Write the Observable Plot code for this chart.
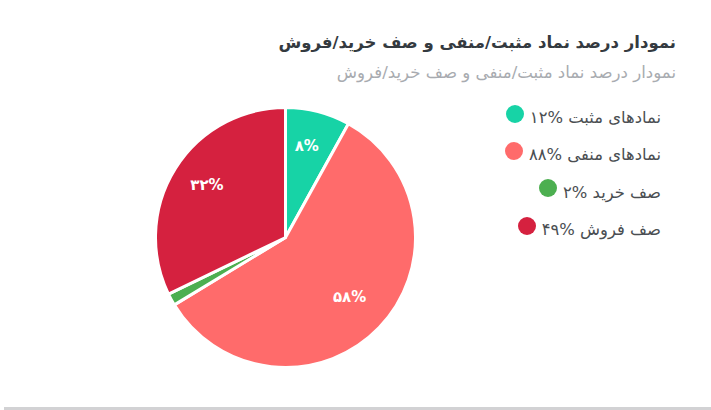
<!DOCTYPE html>
<html lang="fa">
<head>
<meta charset="utf-8">
<script src="https://cdn.jsdelivr.net/npm/d3@7"></script>
<script src="https://cdn.jsdelivr.net/npm/@observablehq/plot@0.6"></script>
<style>
  html, body { margin: 0; padding: 0; background: #fff; width: 711px; height: 410px; overflow: hidden; position: relative; }
  body { font-family: "DejaVu Sans", sans-serif; }
  #head { position: absolute; top: 0; right: 35px; left: 0; direction: rtl; text-align: right; }
  #title { position: absolute; top: 31px; right: 0; font-size: 16.5px; font-weight: 700; color: #343a40; white-space: nowrap; line-height: 24px; }
  #subtitle { position: absolute; top: 62px; right: 0; font-size: 16.6px; color: #a8abb0; white-space: nowrap; line-height: 22px; }
  #legend { position: absolute; top: 99px; right: 50px; direction: rtl; }
  .row { display: flex; align-items: center; height: 37.3px; font-size: 16.4px; color: #4a4e52; white-space: nowrap; }
  .num { direction: ltr; unicode-bidi: isolate; }
  .swatch { width: 18px; height: 18px; border-radius: 50%; margin-right: 6px; position: relative; top: -4px; }
  #rule { position: absolute; left: 4px; right: 0; top: 407px; height: 3px; background: #d2d2d4; }
  svg { position: absolute; left: 0; top: 0; }
</style>
</head>
<body>
<div id="chart"></div>
<div id="head"><div id="title"></div><div id="subtitle"></div></div>
<div id="legend"></div>
<div id="rule"></div>
<script>
const titleText = "نمودار درصد نماد مثبت/منفی و صف خرید/فروش";
const legendNames = ["نمادهای مثبت", "نمادهای منفی", "صف خرید", "صف فروش"];
const legendLabels = ["۱۲%", "۸۸%", "۲%", "۴۹%"];
const sliceValues = [8, 58, 1.5, 32];
const sliceLabels = ["۸%", "۵۸%", "", "۳۲%"];
const sliceColors = ["#17d3a6", "#ff6b6b", "#4caf50", "#d5213f"];

document.getElementById("title").textContent = titleText;
document.getElementById("subtitle").textContent = titleText;
const legend = document.getElementById("legend");
legendNames.forEach((name, i) => {
  const row = document.createElement("div");
  row.className = "row";
  const label = document.createElement("span");
  const num = document.createElement("span");
  num.className = "num";
  num.textContent = legendLabels[i];
  label.append(name + " ", num);
  const swatch = document.createElement("span");
  swatch.className = "swatch";
  swatch.style.background = sliceColors[i];
  row.append(label, swatch);
  legend.append(row);
});

const arcs = d3.pie().sort(null)(sliceValues);
const slices = arcs.map((a, i) => {
  const mid = (a.startAngle + a.endAngle) / 2;
  return {
    name: legendNames[i],
    label: sliceLabels[i],
    startAngle: a.startAngle,
    endAngle: a.endAngle,
    labelX: 0.7 * Math.sin(mid),
    labelY: 0.7 * Math.cos(mid)
  };
});

// Wedges are drawn through Plot's x and y scales, centred on the origin of the data space.
const wedges = Plot.dot(slices, {
  x: () => 0,
  y: () => 0,
  fill: "name",
  render(index, scales, values, dimensions, context) {
    const cx = scales.x(0), cy = scales.y(0), r = scales.x(1) - cx;
    const arc = d3.arc().innerRadius(0).outerRadius(r);
    const g = d3.select(context.document.createElementNS("http://www.w3.org/2000/svg", "g"));
    g.selectAll("path").data(index).join("path")
      .attr("transform", `translate(${cx},${cy})`)
      .attr("d", i => arc({startAngle: slices[i].startAngle, endAngle: slices[i].endAngle}))
      .attr("fill", i => scales.color(slices[i].name))
      .attr("stroke", "#fff")
      .attr("stroke-width", 3)
      .attr("stroke-linejoin", "round");
    return g.node();
  }
});

const chart = Plot.plot({
  width: 711,
  height: 410,
  margin: 0,
  style: {background: "transparent"},
  x: {domain: [-1, 1], range: [155.5, 415.5], axis: null},
  y: {domain: [-1, 1], range: [367.5, 107.5], axis: null},
  color: {domain: legendNames, range: sliceColors},
  marks: [
    wedges,
    Plot.text(slices, {
      x: "labelX",
      y: "labelY",
      text: "label",
      dx: -2,
      dy: -4,
      fill: "#fff",
      fontSize: 15,
      fontWeight: 700,
      fontFamily: "DejaVu Sans",
      style: "filter: drop-shadow(1px 1px 1px rgba(0,0,0,0.55))"
    })
  ]
});
document.getElementById("chart").append(chart);
</script>
</body>
</html>
